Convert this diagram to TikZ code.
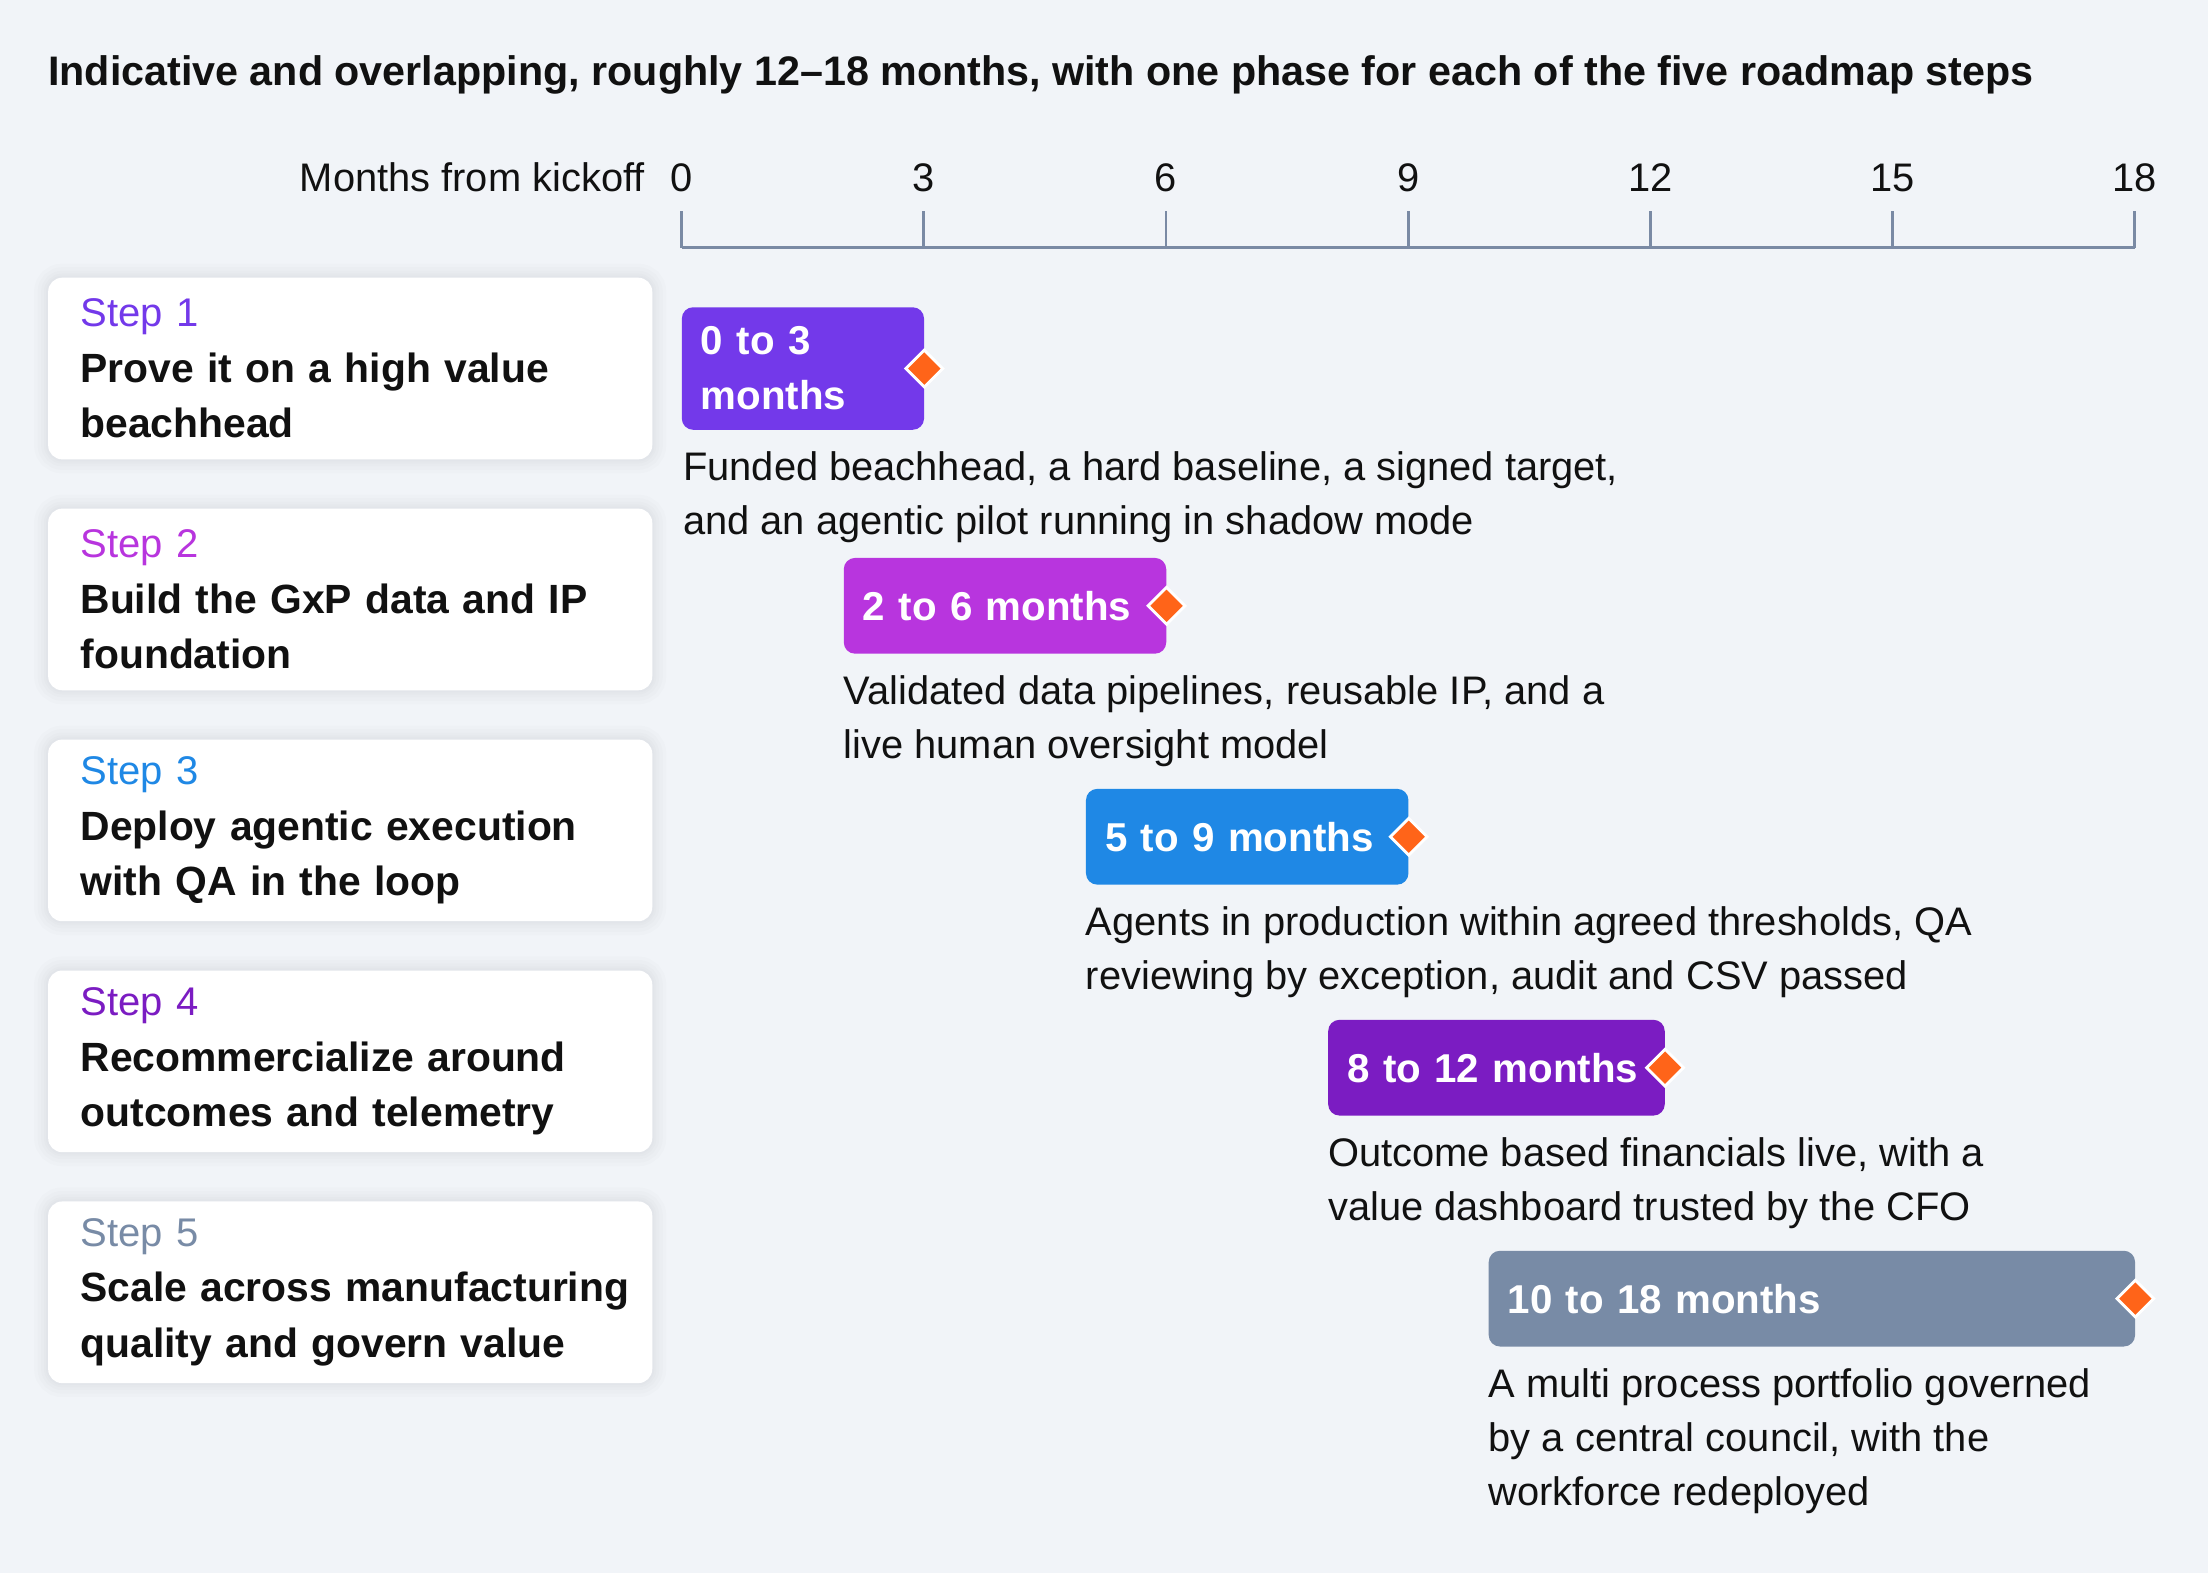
\documentclass[tikz,border=0pt]{standalone}
\usepackage{fontspec}
\setmainfont{Liberation Sans}
\usetikzlibrary{positioning}
\usetikzlibrary{shapes.geometric}

\definecolor{pagebg}{HTML}{F1F4F8}
\definecolor{ink}{HTML}{111111}
\definecolor{shade}{HTML}{1A2A44}
\definecolor{axisgray}{HTML}{7A8AA4}
\definecolor{stepone}{HTML}{7339EA}
\definecolor{steptwo}{HTML}{B835DE}
\definecolor{stepthree}{HTML}{1F88E5}
\definecolor{stepfour}{HTML}{7B1CC2}
\definecolor{stepfive}{HTML}{788BA6}
\definecolor{milestone}{HTML}{FF6419}

\newcommand{\cardline}[1]{{\fontsize{29}{39.3}\selectfont\bfseries\mbox{#1}}}

\begin{document}
\begin{tikzpicture}[x=1pt, y=-1pt,
    halo/.style={preaction={draw=shade, draw opacity=0.012, line width=#1}},
    card/.style={rectangle, rounded corners=10pt, fill=white, anchor=north west,
      minimum width=429pt, minimum height=129pt, inner xsep=23pt, text width=383pt,
      align=left, text=ink, font=\fontsize{28.4}{39.3}\selectfont,
      halo=20pt, halo=15pt, halo=10pt, halo=6pt, halo=3pt},
    bar/.style={rectangle, rounded corners=8pt, anchor=north west, inner xsep=13.5pt, inner ysep=0pt,
      minimum height=68pt, align=left, text=white, font=\fontsize{28.6}{39}\selectfont\bfseries},
    marker/.style={diamond, aspect=1, fill=milestone, draw=white, line width=2pt,
      minimum size=27pt, inner sep=0pt},
    desc/.style={align=left, inner sep=0pt, text=ink, font=\fontsize{28.3}{38.5}\selectfont},
    axisline/.style={draw=axisgray, line width=2pt},
    ticklabel/.style={anchor=base, inner sep=0pt, text=ink, font=\fontsize{28.3}{34}\selectfont},
  ]
    \fill[pagebg] (0,0) rectangle (1568,1117);
    \useasboundingbox (0,0) rectangle (1568,1117);

    % title and time axis
    \node[anchor=base west, inner sep=0pt, text=ink, font=\fontsize{29.3}{34}\selectfont\bfseries] (title) at (34,61)
      {Indicative and overlapping, roughly 12--18 months, with one phase for each of the five roadmap steps};
    \node[ticklabel, anchor=base east] (axislabel) at (458,136) {Months from kickoff};
    \draw[axisline] (484,176) -- (1516,176);
    \foreach \m [evaluate=\m as \x using 484+\m*172/3] in {0,3,...,18} {
        \draw[axisline] (\x,150) -- (\x,176);
        \node[ticklabel] (tick\m) at (\x,136) {\m};
    }

    % roadmap steps
    \node[card] (card1) at (34,197) {{\color{stepone}Step 1}\\\cardline{Prove it on a high value}\\\cardline{beachhead}};
    \node[card] (card2) at (34,361) {{\color{steptwo}Step 2}\\\cardline{Build the GxP data and IP}\\\cardline{foundation}};
    \node[card] (card3) at (34,525) {{\color{stepthree}Step 3}\\\cardline{Deploy agentic execution}\\\cardline{with QA in the loop}};
    \node[card] (card4) at (34,689) {{\color{stepfour}Step 4}\\\cardline{Recommercialize around}\\\cardline{outcomes and telemetry}};
    \node[card] (card5) at (34,853) {{\color{stepfive}Step 5}\\\cardline{Scale across manufacturing}\\\cardline{quality and govern value}};

    % phases
    \node[bar, fill=stepone, text width=145pt, minimum height=87pt] (bar1) at (484,218) {0 to 3\\months};
    \node[bar, fill=steptwo, text width=202pt] (bar2) at (599,396) {2 to 6 months};
    \node[bar, fill=stepthree, text width=202pt] (bar3) at (771,560) {5 to 9 months};
    \node[bar, fill=stepfour, text width=212pt] (bar4) at (943,724) {8 to 12 months};
    \node[bar, fill=stepfive, text width=432pt] (bar5) at (1057,888) {10 to 18 months};

    \node[marker] (mark1) at (bar1.east) {};
    \node[marker] (mark2) at (bar2.east) {};
    \node[marker] (mark3) at (bar3.east) {};
    \node[marker] (mark4) at (bar4.east) {};
    \node[marker] (mark5) at (bar5.east) {};

    \node[desc, below right=15pt and 1pt of bar1.south west] (desc1)
      {Funded beachhead, a hard baseline, a signed target,\\and an agentic pilot running in shadow mode};
    \node[desc, below right=15pt and 0pt of bar2.south west] (desc2)
      {Validated data pipelines, reusable IP, and a\\live human oversight model};
    \node[desc, below right=15pt and 0pt of bar3.south west] (desc3)
      {Agents in production within agreed thresholds, QA\\reviewing by exception, audit and CSV passed};
    \node[desc, below right=15pt and 0pt of bar4.south west] (desc4)
      {Outcome based financials live, with a\\value dashboard trusted by the CFO};
    \node[desc, below right=15pt and 0pt of bar5.south west] (desc5)
      {A multi process portfolio governed\\by a central council, with the\\workforce redeployed};
\end{tikzpicture}
\end{document}
